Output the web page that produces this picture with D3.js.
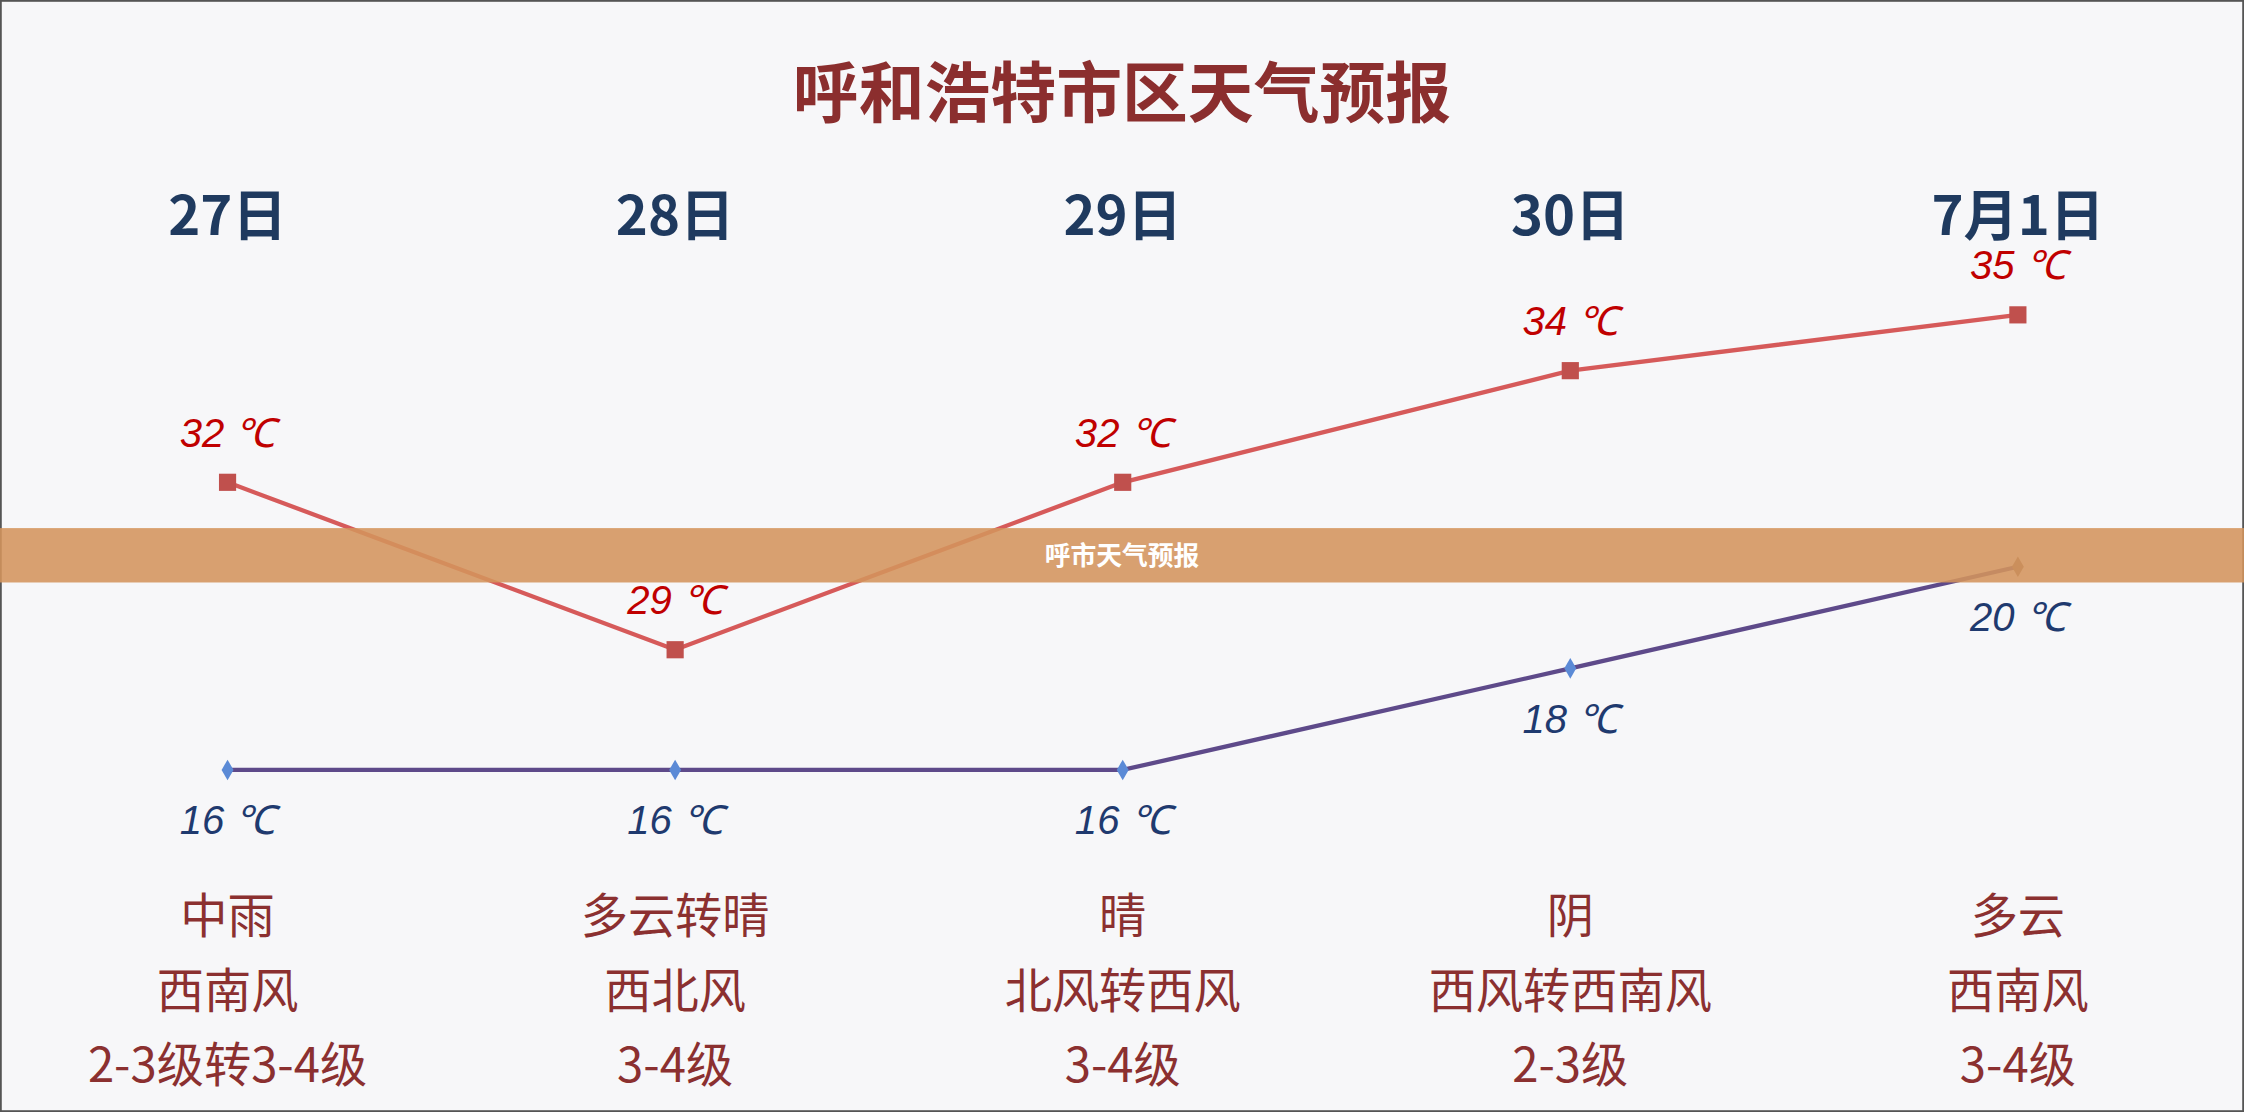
<!DOCTYPE html>
<html><head><meta charset="utf-8">
<script src="https://cdn.jsdelivr.net/npm/d3@7"></script>
<style>body{margin:0;background:#fff}</style>
</head><body>
<script>
var days = ["27日", "28日", "29日", "30日", "7月1日"];
var highs = [32, 29, 32, 34, 35];
var lows = [16, 16, 16, 18, 20];
var weather = ["中雨", "多云转晴", "晴", "阴", "多云"];
var winds = ["西南风", "西北风", "北风转西风", "西风转西南风", "西南风"];
var levels = ["2-3级转3-4级", "3-4级", "3-4级", "2-3级", "3-4级"];

var font = "'Noto Sans CJK SC', sans-serif";
var svg = d3.select("body").append("svg")
	.attr("width", 2244).attr("height", 1112)
	.attr("viewBox", "0 0 1568 777");

svg.append("rect").attr("x", 0.5).attr("y", 0.5).attr("width", 1567).attr("height", 776)
	.style("fill", "#f7f7f9").style("stroke", "#555").style("stroke-width", 1.5);

var x = d3.scalePoint().domain(days).range([159, 1410]);
var yHigh = d3.scaleLinear().domain([29, 35]).range([454, 220]);
var yLow = d3.scaleLinear().domain([16, 20]).range([538, 396]);

svg.append("text").attr("x", 784).attr("y", 82).attr("text-anchor", "middle")
	.style("font-family", font).style("font-size", "46px").style("font-weight", "bold")
	.style("fill", "#8b2e2e").text("呼和浩特市区天气预报");

svg.selectAll(".day").data(days).enter().append("text")
	.attr("x", function(d) { return x(d); }).attr("y", 164).attr("text-anchor", "middle")
	.style("font-family", font).style("font-size", "38px").style("font-weight", "bold")
	.style("fill", "#1f3a5f").text(function(d) { return d; });

// high temps
svg.append("path").datum(highs)
	.attr("d", d3.line().x(function(d, i) { return x(days[i]); }).y(function(d) { return yHigh(d); }))
	.style("fill", "none").style("stroke", "#d65a5a").style("stroke-width", 3);
svg.selectAll(".hp").data(highs).enter().append("rect")
	.attr("x", function(d, i) { return x(days[i]) - 6; })
	.attr("y", function(d) { return yHigh(d) - 6; })
	.attr("width", 12).attr("height", 12).style("fill", "#c0504d");
svg.selectAll(".hl").data(highs).enter().append("text")
	.attr("x", function(d, i) { return x(days[i]); })
	.attr("y", function(d) { return yHigh(d) - 25; }).attr("text-anchor", "middle")
	.style("font-family", "'Liberation Sans', sans-serif").style("font-style", "italic")
	.style("font-size", "28px").style("fill", "#c00000")
	.text(function(d) { return d + " ℃"; });

// low temps
svg.append("path").datum(lows)
	.attr("d", d3.line().x(function(d, i) { return x(days[i]); }).y(function(d) { return yLow(d); }))
	.style("fill", "none").style("stroke", "#5e4a8a").style("stroke-width", 3);
svg.selectAll(".lp").data(lows).enter().append("path")
	.attr("transform", function(d, i) { return "translate(" + x(days[i]) + "," + yLow(d) + ")"; })
	.attr("d", d3.symbol(d3.symbolDiamond, 60))
	.style("fill", function(d, i) { return i == 4 ? "#8a6a5a" : "#5b8ad6"; });
svg.selectAll(".ll").data(lows).enter().append("text")
	.attr("x", function(d, i) { return x(days[i]); })
	.attr("y", function(d) { return yLow(d) + 45; }).attr("text-anchor", "middle")
	.style("font-family", "'Liberation Sans', sans-serif").style("font-style", "italic")
	.style("font-size", "28px").style("fill", "#1f3a6f")
	.text(function(d) { return d + "  ℃"; });

// weather rows
[weather, winds, levels].forEach(function(row, r) {
	svg.selectAll(".w" + r).data(row).enter().append("text")
		.attr("x", function(d, i) { return x(days[i]); })
		.attr("y", 652 + r * 52).attr("text-anchor", "middle")
		.style("font-family", font).style("font-size", "33px")
		.style("fill", "#8b3030").text(function(d) { return d; });
});

// banner
svg.append("rect").attr("x", 0).attr("y", 369).attr("width", 1568).attr("height", 38)
	.style("fill", "#d4945c").style("opacity", 0.88);
svg.append("text").attr("x", 784).attr("y", 395).attr("text-anchor", "middle")
	.style("font-family", font).style("font-size", "18px").style("font-weight", "bold")
	.style("fill", "#fff").text("呼市天气预报");
</script>
</body></html>
